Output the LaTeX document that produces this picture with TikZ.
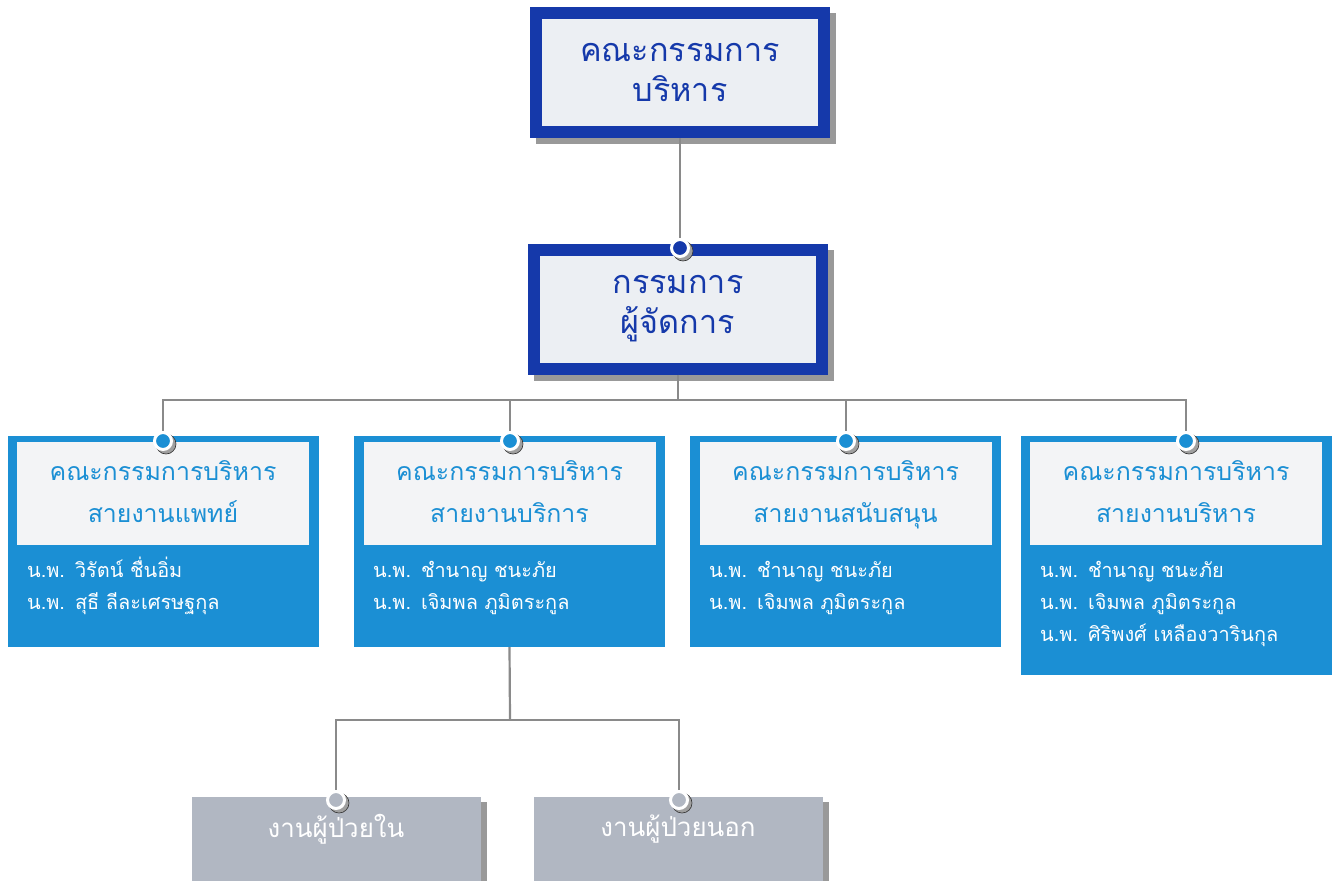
\documentclass[tikz,border=0pt]{standalone}
\usepackage{fontspec}
\newfontfamily\thaifont[Script=Thai]{Loma}
\usetikzlibrary{calc}
\definecolor{navy}{HTML}{1539AA}
\definecolor{palebg}{HTML}{ECEFF3}
\definecolor{shadowgray}{HTML}{999999}
\definecolor{midblue}{HTML}{1B8FD4}
\definecolor{lightbg}{HTML}{F3F4F6}
\definecolor{linegray}{HTML}{8A8A8A}
\definecolor{greybox}{HTML}{B1B7C2}
\tikzset{
  topbox/.style={draw=navy, line width=12bp, fill=palebg, minimum width=288bp, minimum height=119bp,
    inner sep=0pt, font=\thaifont\fontsize{32.5}{40}\selectfont, text=navy, align=center},
  bluebox/.style={fill=midblue, inner sep=0pt, outer sep=0pt, minimum width=311bp, minimum height=211bp},
  headbox/.style={fill=lightbg, inner sep=0pt, outer sep=0pt, minimum width=292bp, minimum height=103bp,
    text height=62bp, text depth=4bp,
    font=\thaifont\fontsize{25}{42}\selectfont, text=midblue, align=center},
  names/.style={anchor=base west, inner sep=0pt, text width=300bp, align=left, text=white,
    font=\thaifont\fontsize{20}{32}\selectfont},
  greyb/.style={fill=greybox, inner sep=0pt, outer sep=0pt, minimum width=289bp, minimum height=84bp},
  greytext/.style={text=white, inner sep=0pt, font=\thaifont\fontsize{26}{30}\selectfont},
  conn/.style={draw=linegray, line width=2.2bp},
  dotn/.style={circle, draw=white, line width=3bp, minimum size=17bp, inner sep=0pt},
  dotshadow/.style={fill=gray!75, draw=gray!40!black, line width=0.6bp},
}
\begin{document}
\begin{tikzpicture}[x=1bp,y=-1bp]
\useasboundingbox[fill=white] (0,0) rectangle (1340,881);
% top boxes
\node[topbox] (top) at (680,72.5) {};
\fill[shadowgray] ($(top.south west)+(6,6)$) rectangle ($(top.north east)+(6,6)$);
\node[topbox] (topb) at (680,72.5) {คณะกรรมการ\\บริหาร};
\node[topbox] (sec) at (678,309) {};
\fill[shadowgray] ($(sec.south west)+(6,6)$) rectangle ($(sec.north east)+(6,6)$);
\node[topbox] (secb) at (678,309) {กรรมการ\\ผู้จัดการ};
% blue boxes
\node[bluebox] (b1) at (163.5,541.5) {};
\node[bluebox] (b2) at (509.5,541.5) {};
\node[bluebox] (b3) at (845.5,541.5) {};
\node[bluebox, minimum height=239bp] (b4) at (1176.5,555.5) {};
\node[headbox] (h1) at (163,493.5) {คณะกรรมการบริหาร\\สายงานแพทย์};
\node[headbox] (h2) at (509.5,493.5) {คณะกรรมการบริหาร\\สายงานบริการ};
\node[headbox] (h3) at (845.5,493.5) {คณะกรรมการบริหาร\\สายงานสนับสนุน};
\node[headbox] (h4) at (1176,493.5) {คณะกรรมการบริหาร\\สายงานบริหาร};
\node[names] (n1) at (27,577.5) {น.พ. วิรัตน์ ชื่นอิ่ม\\น.พ. สุธี ลีละเศรษฐกุล};
\node[names] (n2) at (373,577.5) {น.พ. ชำนาญ ชนะภัย\\น.พ. เจิมพล ภูมิตระกูล};
\node[names] (n3) at (709,577.5) {น.พ. ชำนาญ ชนะภัย\\น.พ. เจิมพล ภูมิตระกูล};
\node[names] (n4) at (1040,577.5) {น.พ. ชำนาญ ชนะภัย\\น.พ. เจิมพล ภูมิตระกูล\\น.พ. ศิริพงศ์ เหลืองวารินกุล};
% grey boxes
\fill[shadowgray] (198,802) rectangle (487,881);
\fill[shadowgray] (540,802) rectangle (829,881);
\node[greyb] (g1) at (336.5,839) {};
\node[greyb] (g2) at (678.5,839) {};
\node[greytext] (t1) at (336,829) {งานผู้ป่วยใน};
\node[greytext] (t2) at (678,829) {งานผู้ป่วยนอก};
% connector points
\coordinate (p0) at (680,248);
\coordinate (p1) at (163,441);
\coordinate (p2) at (510,441);
\coordinate (p3) at (846,441);
\coordinate (p4) at (1186,441);
\coordinate (q1) at (336,800);
\coordinate (q2) at (679,800);
\coordinate (bus) at (678,400);
\coordinate (bus2) at (510,720);
\draw[conn] (topb.south) -- (p0);
\draw[conn] (secb.south) -- (bus);
\draw[conn] (p1) |- (bus) -| (p4);
\draw[conn] (p2) -- (p2 |- bus);
\draw[conn] (p3) -- (p3 |- bus);
\draw[conn] (b2.south) -- (bus2);
\draw[conn] (q1) |- (bus2) -| (q2);
% dots
\foreach \p in {p0,p1,p2,p3,p4,q1,q2}{
  \fill[dotshadow] ($(\p)+(3,3)$) circle (10bp);
}
\node[dotn, fill=navy] (d0) at (p0) {};
\node[dotn, fill=midblue] (d1) at (p1) {};
\node[dotn, fill=midblue] (d2) at (p2) {};
\node[dotn, fill=midblue] (d3) at (p3) {};
\node[dotn, fill=midblue] (d4) at (p4) {};
\node[dotn, fill=greybox] (e1) at (q1) {};
\node[dotn, fill=greybox] (e2) at (q2) {};
\end{tikzpicture}
\end{document}
